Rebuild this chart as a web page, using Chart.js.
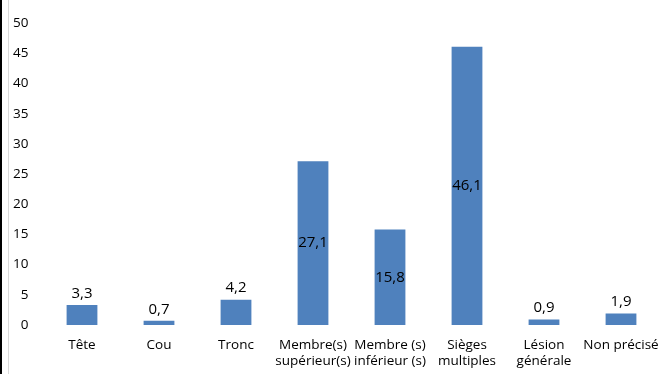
<!DOCTYPE html>
<html>
<head>
<meta charset="utf-8">
<script src="https://cdn.jsdelivr.net/npm/chart.js@4/dist/chart.umd.min.js"></script>
<style>
  html, body { margin: 0; padding: 0; background: #fff; }
  #wrap { position: relative; width: 664px; height: 374px; }
  #edge { position: absolute; left: 0; top: 0; width: 2px; height: 374px; background: #000; }
  #edge2 { position: absolute; left: 8px; top: 0; width: 1px; height: 374px; background: #d9d9d9; }
</style>
</head>
<body>
<div id="wrap">
  <canvas id="chart" width="664" height="374"></canvas>
  <div id="edge"></div>
  <div id="edge2"></div>
</div>
<script>
const categories = [
    'Tête', 'Cou', 'Tronc',
    ['Membre(s)', 'supérieur(s)'],
    ['Membre (s)', 'inférieur (s)'],
    ['Sièges', 'multiples'],
    ['Lésion', 'générale'],
    'Non précisé'
];
const values = [3.3, 0.7, 4.2, 27.1, 15.8, 46.1, 0.9, 1.9];
const yTicks = [0, 5, 10, 15, 20, 25, 30, 35, 40, 45, 50];

const font = "'Open Sans', 'Liberation Sans', sans-serif";

// value labels: inside the bar when it is tall enough, otherwise above it
const barLabels = {
    id: 'barLabels',
    afterDatasetsDraw(chart) {
        const ctx = chart.ctx;
        const meta = chart.getDatasetMeta(0);
        ctx.save();
        ctx.fillStyle = '#000';
        ctx.font = '15px ' + font;
        ctx.textAlign = 'center';
        meta.data.forEach((bar, i) => {
            const txt = values[i].toFixed(1).replace('.', ',');
            if (values[i] > 10) {
                ctx.textBaseline = 'middle';
                ctx.fillText(txt, bar.x, (bar.y + bar.base) / 2);
            } else {
                ctx.textBaseline = 'bottom';
                ctx.fillText(txt, bar.x, bar.y - 4);
            }
        });
        ctx.restore();
    }
};

new Chart(document.getElementById('chart').getContext('2d'), {
    type: 'bar',
    data: {
        labels: categories,
        datasets: [{
            data: values,
            backgroundColor: '#4F81BD',
            categoryPercentage: 1,
            barPercentage: 0.4
        }]
    },
    options: {
        responsive: false,
        animation: false,
        layout: { padding: { top: 20, right: 4.5, bottom: 0, left: 0 } },
        plugins: {
            legend: { display: false },
            tooltip: { enabled: false }
        },
        scales: {
            x: {
                grid: { display: false, drawTicks: false },
                border: { display: false },
                ticks: {
                    color: '#000',
                    font: { family: font, size: 13.5 },
                    padding: 12,
                    maxRotation: 0,
                    autoSkip: false
                },
                afterFit(scale) {
                    scale.height = 49;
                    scale.paddingLeft = 0;
                    scale.paddingRight = 0;
                }
            },
            y: {
                min: 0,
                max: 50,
                grid: { display: false, drawTicks: false },
                border: { display: false },
                afterBuildTicks(scale) { scale.ticks = yTicks.map(v => ({ value: v })); },
                ticks: {
                    color: '#000',
                    font: { family: font, size: 13.5 },
                    padding: 15
                },
                afterFit(scale) { scale.width = 43.5; }
            }
        }
    },
    plugins: [barLabels]
});
</script>
</body>
</html>
